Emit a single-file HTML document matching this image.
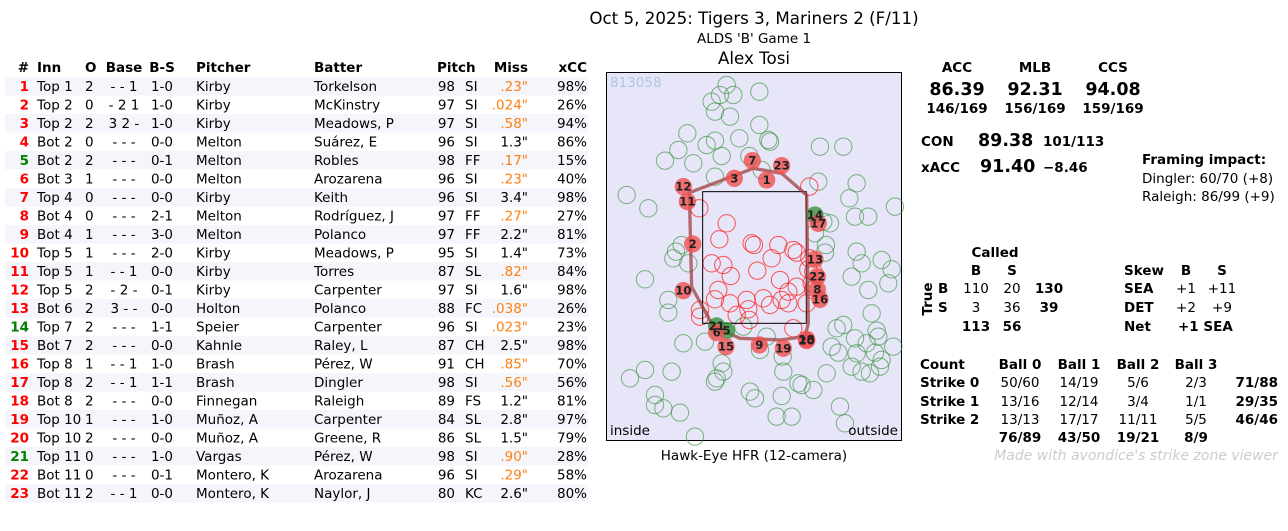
<!DOCTYPE html>
<html><head><meta charset="utf-8"><style>
html,body{margin:0;padding:0;background:#fff;}
svg{display:block;font-family:"DejaVu Sans","Liberation Sans",sans-serif;}
.b{font-weight:bold;}
</style></head><body>
<svg width="1288" height="531" viewBox="0 0 1288 531" xmlns="http://www.w3.org/2000/svg">
<text x="754" y="24" font-size="16.7" text-anchor="middle">Oct 5, 2025: Tigers 3, Mariners 2 (F/11)</text>
<text x="754" y="43" font-size="13.5" text-anchor="middle">ALDS 'B' Game 1</text>
<text x="754" y="64" font-size="16.7" text-anchor="middle">Alex Tosi</text>

<g font-size="13.5">
<g fill="#f5f6fc">
<rect x="5" y="77" width="583" height="18.5"/><rect x="5" y="114" width="583" height="18.5"/>
<rect x="5" y="151" width="583" height="18.5"/><rect x="5" y="188" width="583" height="18.5"/>
<rect x="5" y="225" width="583" height="18.5"/><rect x="5" y="262" width="583" height="18.5"/>
<rect x="5" y="299" width="583" height="18.5"/><rect x="5" y="336" width="583" height="18.5"/>
<rect x="5" y="373" width="583" height="18.5"/><rect x="5" y="410" width="583" height="18.5"/>
<rect x="5" y="447" width="583" height="18.5"/><rect x="5" y="484" width="583" height="18.5"/>
</g>
<g class="b">
<text x="29" y="72" text-anchor="end">#</text><text x="37" y="72">Inn</text><text x="85" y="72">O</text>
<text x="124" y="72" text-anchor="middle">Base</text><text x="162" y="72" text-anchor="middle">B-S</text>
<text x="196" y="72">Pitcher</text><text x="314" y="72">Batter</text><text x="437" y="72">Pitch</text>
<text x="528" y="72" text-anchor="end">Miss</text><text x="587" y="72" text-anchor="end">xCC</text>
</g>
<g id="rows"></g>
</g>

<rect x="606.5" y="72.5" width="295" height="368" fill="#e6e6f8" stroke="#000" stroke-width="1"/>
<text x="610" y="87" font-size="13.5" fill="#b0c4de">813058</text>
<g transform="translate(600,70) scale(0.3333)" fill="none" stroke-width="3">
<g stroke="#2e8b2e" stroke-opacity="0.6" id="gc"></g>
<g stroke="#ff2020" stroke-opacity="0.75" id="rc"></g>
<rect x="308" y="365" width="311" height="395" stroke="#000" stroke-width="3"/>
<polygon points="268,368 460,295 545,310 620,375 625,760 615,800 540,810 420,805 340,770 275,650" stroke="#a04040" stroke-opacity="0.75" stroke-width="10"/>
<g id="pts"></g>
</g>
<text x="610" y="435" font-size="13.5">inside</text>
<text x="898" y="435" font-size="13.5" text-anchor="end">outside</text>
<text x="754" y="460" font-size="13.5" text-anchor="middle">Hawk-Eye HFR (12-camera)</text>

<g font-size="13.5">
<g class="b" text-anchor="middle">
<text x="957" y="72">ACC</text><text x="1035" y="72">MLB</text><text x="1113" y="72">CCS</text>
<text x="957" y="95" font-size="17.5">86.39</text><text x="1035" y="95" font-size="17.5">92.31</text><text x="1113" y="95" font-size="17.5">94.08</text>
<text x="957" y="113">146/169</text><text x="1035" y="113">156/169</text><text x="1113" y="113">159/169</text>
</g>
<g class="b">
<text x="921" y="146">CON</text><text x="978" y="146" font-size="17.5">89.38</text><text x="1043" y="146">101/113</text>
<text x="921" y="172">xACC</text><text x="980" y="172" font-size="17.5">91.40</text><text x="1043" y="172">−8.46</text>
<text x="1142" y="164">Framing impact:</text>
</g>
<text x="1142" y="183">Dingler: 60/70 (+8)</text>
<text x="1142" y="201">Raleigh: 86/99 (+9)</text>

<g class="b"><text x="995" y="257" text-anchor="middle">Called</text>
<text x="976" y="275" text-anchor="middle">B</text><text x="1012" y="275" text-anchor="middle">S</text>
<text transform="translate(932,299) rotate(-90)" text-anchor="middle">True</text>
<text x="938" y="293">B</text><text x="938" y="312">S</text>
<text x="1049" y="293" text-anchor="middle">130</text><text x="1049" y="312" text-anchor="middle">39</text>
<text x="976" y="331" text-anchor="middle">113</text><text x="1012" y="331" text-anchor="middle">56</text></g>
<text x="976" y="293" text-anchor="middle">110</text><text x="1012" y="293" text-anchor="middle">20</text>
<text x="976" y="312" text-anchor="middle">3</text><text x="1012" y="312" text-anchor="middle">36</text>

<g class="b"><text x="1124" y="275">Skew</text><text x="1186" y="275" text-anchor="middle">B</text><text x="1222" y="275" text-anchor="middle">S</text>
<text x="1124" y="293">SEA</text><text x="1124" y="312">DET</text><text x="1124" y="331">Net</text>
<text x="1178" y="331">+1 SEA</text></g>
<text x="1186" y="293" text-anchor="middle">+1</text><text x="1222" y="293" text-anchor="middle">+11</text>
<text x="1186" y="312" text-anchor="middle">+2</text><text x="1222" y="312" text-anchor="middle">+9</text>

<g class="b"><text x="920" y="369">Count</text>
<text x="1020" y="369" text-anchor="middle">Ball 0</text><text x="1079" y="369" text-anchor="middle">Ball 1</text>
<text x="1138" y="369" text-anchor="middle">Ball 2</text><text x="1196" y="369" text-anchor="middle">Ball 3</text>
<text x="920" y="387">Strike 0</text><text x="920" y="406">Strike 1</text><text x="920" y="424">Strike 2</text>
<text x="1278" y="387" text-anchor="end">71/88</text><text x="1278" y="406" text-anchor="end">29/35</text><text x="1278" y="424" text-anchor="end">46/46</text>
<text x="1020" y="442" text-anchor="middle">76/89</text><text x="1079" y="442" text-anchor="middle">43/50</text>
<text x="1138" y="442" text-anchor="middle">19/21</text><text x="1196" y="442" text-anchor="middle">8/9</text></g>
<g text-anchor="middle">
<text x="1020" y="387">50/60</text><text x="1079" y="387">14/19</text><text x="1138" y="387">5/6</text><text x="1196" y="387">2/3</text>
<text x="1020" y="406">13/16</text><text x="1079" y="406">12/14</text><text x="1138" y="406">3/4</text><text x="1196" y="406">1/1</text>
<text x="1020" y="424">13/13</text><text x="1079" y="424">17/17</text><text x="1138" y="424">11/11</text><text x="1196" y="424">5/5</text>
</g>
<text x="1278" y="460" text-anchor="end" fill="#cccccc" font-style="italic" font-size="14">Made with avondice's strike zone viewer</text>
</g>
</svg>
<script>
var NS="http://www.w3.org/2000/svg";
function el(p,t,a,txt){var e=document.createElementNS(NS,t);for(var k in a)e.setAttribute(k,a[k]);if(txt!=null)e.textContent=txt;p.appendChild(e);return e;}
var rows=[
[1,"Top 1",2,"- - 1","1-0","Kirby","Torkelson",98,"SI",".23\"","98%"],
[2,"Top 2",0,"- 2 1","1-0","Kirby","McKinstry",97,"SI",".024\"","26%"],
[3,"Top 2",2,"3 2 -","1-0","Kirby","Meadows, P",97,"SI",".58\"","94%"],
[4,"Bot 2",0,"- - -","0-0","Melton","Suárez, E",96,"SI","1.3\"","86%"],
[5,"Bot 2",2,"- - -","0-1","Melton","Robles",98,"FF",".17\"","15%"],
[6,"Bot 3",1,"- - -","0-0","Melton","Arozarena",96,"SI",".23\"","40%"],
[7,"Top 4",0,"- - -","0-0","Kirby","Keith",96,"SI","3.4\"","98%"],
[8,"Bot 4",0,"- - -","2-1","Melton","Rodríguez, J",97,"FF",".27\"","27%"],
[9,"Bot 4",1,"- - -","3-0","Melton","Polanco",97,"FF","2.2\"","81%"],
[10,"Top 5",1,"- - -","2-0","Kirby","Meadows, P",95,"SI","1.4\"","73%"],
[11,"Top 5",1,"- - 1","0-0","Kirby","Torres",87,"SL",".82\"","84%"],
[12,"Top 5",2,"- 2 -","0-1","Kirby","Carpenter",97,"SI","1.6\"","98%"],
[13,"Bot 6",2,"3 - -","0-0","Holton","Polanco",88,"FC",".038\"","26%"],
[14,"Top 7",2,"- - -","1-1","Speier","Carpenter",96,"SI",".023\"","23%"],
[15,"Bot 7",2,"- - -","0-0","Kahnle","Raley, L",87,"CH","2.5\"","98%"],
[16,"Top 8",1,"- - 1","1-0","Brash","Pérez, W",91,"CH",".85\"","70%"],
[17,"Top 8",2,"- - 1","1-1","Brash","Dingler",98,"SI",".56\"","56%"],
[18,"Bot 8",2,"- - -","0-0","Finnegan","Raleigh",89,"FS","1.2\"","81%"],
[19,"Top 10",1,"- - -","1-0","Muñoz, A","Carpenter",84,"SL","2.8\"","97%"],
[20,"Top 10",2,"- - -","0-0","Muñoz, A","Greene, R",86,"SL","1.5\"","79%"],
[21,"Top 11",0,"- - -","1-0","Vargas","Pérez, W",98,"SI",".90\"","28%"],
[22,"Bot 11",0,"- - -","0-1","Montero, K","Arozarena",96,"SI",".29\"","58%"],
[23,"Bot 11",2,"- - 1","0-0","Montero, K","Naylor, J",80,"KC","2.6\"","80%"]];
var g=document.getElementById("rows");
rows.forEach(function(r,i){var y=91+i*18.5;
var green=(r[0]==5||r[0]==14||r[0]==21);
el(g,"text",{x:29,y:y,"text-anchor":"end","font-weight":"bold",fill:green?"#008000":"#ff0000"},r[0]);
el(g,"text",{x:37,y:y},r[1]);el(g,"text",{x:85,y:y},r[2]);
el(g,"text",{x:124,y:y,"text-anchor":"middle"},r[3]);el(g,"text",{x:162,y:y,"text-anchor":"middle"},r[4]);
el(g,"text",{x:196,y:y},r[5]);el(g,"text",{x:314,y:y},r[6]);
el(g,"text",{x:455,y:y,"text-anchor":"end"},r[7]);el(g,"text",{x:465,y:y},r[8]);
el(g,"text",{x:528,y:y,"text-anchor":"end",fill:r[9][0]=="."?"#ff7f0e":"#000"},r[9]);
el(g,"text",{x:587,y:y,"text-anchor":"end"},r[10]);});
var G=[[380,45],[360,75],[400,75],[335,95],[478,65],[345,125],[390,140],[478,165],[505,210],[510,215],[262,190],[235,240],[195,272],[280,280],[320,225],[345,212],[365,258],[418,205],[448,258],[485,300],[345,320],[660,230],[730,230],[655,335],[770,340],[748,385],[885,410],[80,375],[145,415],[765,440],[805,440],[670,455],[690,460],[645,490],[678,525],[675,548],[245,525],[228,545],[220,565],[265,580],[770,545],[785,580],[845,570],[875,598],[755,620],[805,660],[865,640],[135,628],[205,690],[205,728],[815,730],[730,765],[710,775],[765,805],[830,782],[835,800],[695,830],[715,848],[770,850],[800,820],[880,830],[825,848],[845,870],[840,890],[755,890],[785,905],[810,910],[680,910],[250,820],[315,815],[480,840],[548,860],[550,905],[365,880],[370,905],[350,925],[345,935],[135,900],[215,905],[90,925],[165,975],[165,1005],[190,1015],[240,1028],[450,965],[465,985],[545,978],[595,940],[605,945],[640,960],[720,1010],[735,1060],[530,1040],[575,1040],[285,1100],[430,770],[500,800]];
var R=[[628,350],[298,415],[380,460],[358,508],[455,520],[462,525],[535,525],[580,540],[515,565],[335,580],[370,585],[392,618],[472,602],[540,630],[590,548],[625,598],[628,565],[635,640],[590,650],[565,665],[490,685],[510,705],[545,690],[565,700],[355,660],[345,688],[390,700],[440,690],[445,718],[410,735],[300,720],[300,740],[448,750],[580,775],[640,605],[640,660],[620,700]];
var gc=document.getElementById("gc"),rc=document.getElementById("rc");
G.forEach(function(p){el(gc,"circle",{cx:p[0],cy:p[1],r:26});});
R.forEach(function(p){el(rc,"circle",{cx:p[0],cy:p[1],r:26});});
var P=[[7,457,272],[23,545,287],[3,403,325],[1,500,330],[12,250,350],[11,262,395],[14,645,435,1],[17,655,460],[2,278,522],[13,645,568],[22,652,620],[8,652,658],[16,660,688],[10,250,662],[21,350,768,1],[5,380,782,1],[6,350,788],[15,378,830],[9,478,825],[19,550,835],[18,620,808],[20,620,812]];
var pg=document.getElementById("pts");
P.forEach(function(p){el(pg,"circle",{cx:p[1],cy:p[2],r:26,fill:p[3]?"#2e8b2e":"#f05050","fill-opacity":p[3]?0.75:0.8,stroke:"none"});});
P.forEach(function(p){el(pg,"text",{x:p[1],y:p[2]+12,"text-anchor":"middle","font-size":35,"font-weight":"bold",fill:"#222",stroke:"none"},p[0]);});
</script>
</body></html>
